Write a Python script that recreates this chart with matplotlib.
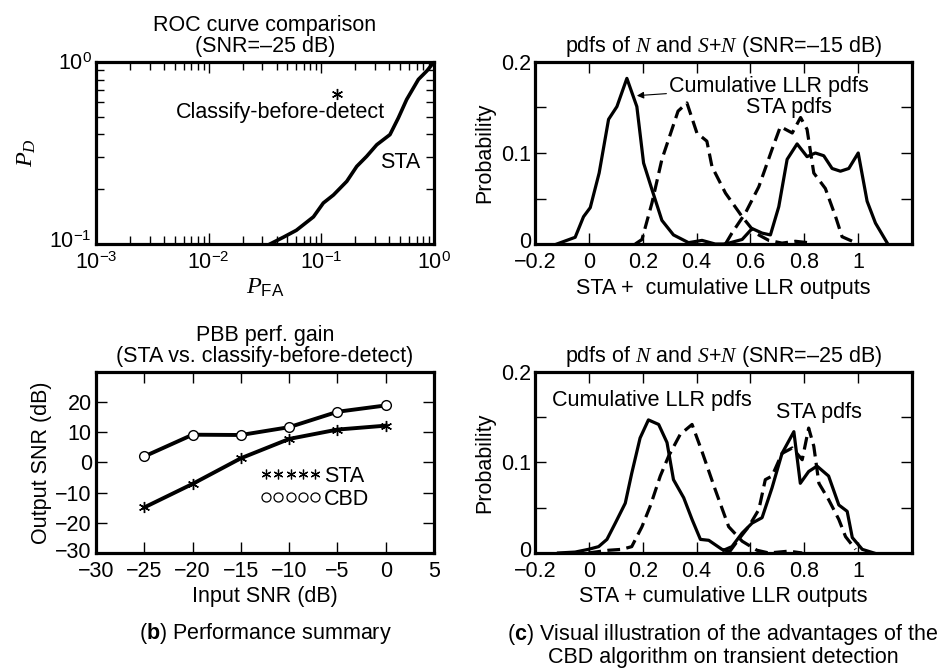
import numpy as np
import matplotlib
matplotlib.use("Agg")
import matplotlib.pyplot as plt
from matplotlib.lines import Line2D
from matplotlib.ticker import NullFormatter
from matplotlib.legend_handler import HandlerLine2D
from matplotlib.transforms import ScaledTranslation

plt.rcParams['font.family'] = ['Liberation Sans', 'DejaVu Sans']
plt.rcParams['mathtext.fontset'] = 'custom'
plt.rcParams['mathtext.rm'] = 'Liberation Sans'
plt.rcParams['mathtext.sf'] = 'Liberation Sans'
plt.rcParams['mathtext.it'] = 'Liberation Serif:italic'
plt.rcParams['mathtext.bf'] = 'Liberation Sans:bold'
plt.rcParams['axes.unicode_minus'] = True

FS = 15.5

# ---------------- data ----------------
# ROC (SNR = -25 dB), STA curve
roc_pfa = [0.035, 0.046, 0.060, 0.085, 0.104, 0.128, 0.168, 0.206, 0.252,
           0.310, 0.406, 0.482, 0.571, 0.726, 0.861, 1.0]
roc_pd = [0.100, 0.109, 0.119, 0.141, 0.168, 0.186, 0.221, 0.267, 0.303,
          0.351, 0.399, 0.493, 0.622, 0.802, 0.892, 1.0]
cbd_pfa = [0.137]
cbd_pd = [0.671]

# Performance summary
snr_in = [-25, -20, -15, -10, -5, 0]
sta_out = [-14.9, -7.1, 1.4, 7.8, 10.9, 12.2]
cbd_out = [2.0, 9.2, 9.1, 11.7, 16.8, 18.9]

# pdfs, SNR = -15 dB
a_llr_n_x = [-0.119, -0.051, -0.020, 0.005, 0.038, 0.073, 0.104, 0.141, 0.178, 0.203,
             0.234, 0.271, 0.314, 0.370, 0.420, 0.469, 0.507]
a_llr_n_y = [0.0, 0.0074, 0.030, 0.040, 0.078, 0.137, 0.151, 0.182, 0.151, 0.089,
             0.060, 0.026, 0.010, 0.0015, 0.004, 0.0, 0.0]
a_sta_n_x = [0.172, 0.197, 0.234, 0.271, 0.331, 0.364, 0.401, 0.438, 0.457, 0.507,
             0.569, 0.618, 0.668, 0.717, 0.767, 0.829]
a_sta_n_y = [0.0, 0.005, 0.045, 0.093, 0.146, 0.155, 0.122, 0.113, 0.085, 0.056,
             0.030, 0.012, 0.004, 0.001, 0.003, 0.001]
a_sta_s_x = [0.507, 0.531, 0.581, 0.631, 0.680, 0.711, 0.755, 0.786, 0.810, 0.835,
             0.878, 0.916, 0.940, 0.990]
a_sta_s_y = [0.0, 0.012, 0.034, 0.063, 0.104, 0.129, 0.122, 0.139, 0.126, 0.078,
             0.061, 0.030, 0.008, 0.0015]
a_llr_s_x = [0.507, 0.569, 0.606, 0.643, 0.674, 0.705, 0.736, 0.773, 0.810, 0.841,
             0.872, 0.903, 0.934, 0.965, 1.0, 1.033, 1.064, 1.108]
a_llr_s_y = [0.0, 0.005, 0.017, 0.012, 0.010, 0.041, 0.093, 0.110, 0.096, 0.100,
             0.097, 0.083, 0.080, 0.083, 0.100, 0.047, 0.023, 0.001]

# pdfs, SNR = -25 dB
b_llr_n_x = [-0.113, -0.051, -0.002, 0.036, 0.067, 0.098, 0.135, 0.159, 0.190, 0.221,
             0.259, 0.290, 0.314, 0.352, 0.383, 0.414, 0.445, 0.494, 0.519]
b_llr_n_y = [0.0, 0.001, 0.004, 0.007, 0.015, 0.033, 0.055, 0.088, 0.127, 0.147,
             0.142, 0.122, 0.081, 0.061, 0.037, 0.015, 0.014, 0.004, 0.002]
b_sta_n_x = [-0.002, 0.073, 0.122, 0.159, 0.197, 0.228, 0.265, 0.296, 0.339, 0.383,
             0.420, 0.469, 0.519, 0.569, 0.624, 0.668, 0.742, 0.792]
b_sta_n_y = [0.0, 0.003, 0.004, 0.007, 0.029, 0.052, 0.085, 0.107, 0.131, 0.142,
             0.112, 0.070, 0.029, 0.013, 0.003, 0.0, 0.002, 0.0]
b_llr_s_x = [0.500, 0.531, 0.569, 0.606, 0.643, 0.680, 0.717, 0.761, 0.785, 0.816,
             0.847, 0.890, 0.928, 0.959, 0.978, 1.015, 1.058]
b_llr_s_y = [0.003, 0.007, 0.022, 0.033, 0.039, 0.072, 0.110, 0.134, 0.077, 0.090,
             0.096, 0.085, 0.053, 0.046, 0.017, 0.004, 0.0]
b_sta_s_x = [0.519, 0.556, 0.593, 0.631, 0.655, 0.680, 0.717, 0.755, 0.792, 0.816,
             0.835, 0.854, 0.890, 0.928, 0.953, 0.990]
b_sta_s_y = [0.0, 0.015, 0.029, 0.048, 0.081, 0.085, 0.110, 0.116, 0.103, 0.138,
             0.118, 0.077, 0.059, 0.037, 0.018, 0.004]

pdf_xticks = [-0.2, 0, 0.2, 0.4, 0.6, 0.8, 1.0]
pdf_xticklabels = ['−0.2', '0', '0.2', '0.4', '0.6', '0.8', '1']
pdf_yticks = [0, 0.05, 0.1, 0.15, 0.2]
pdf_yticklabels = ['0', '', '0.1', '', '0.2']

# ---------------- figure ----------------
fig = plt.figure(figsize=(9.49, 6.68), dpi=100)
LW = 2.3
SW = 2.3

def style(ax):
    for s in ax.spines.values():
        s.set_linewidth(SW)
    ax.tick_params(which='both', direction='in', top=True, right=True,
                   labelsize=FS, width=1.0)
    ax.tick_params(axis='x', which='both', pad=6)
    ax.tick_params(axis='y', which='both', pad=3)
    ax.tick_params(which='major', length=8)
    ax.tick_params(which='minor', length=6)

def lift_bottom_ylabel(ax, pts=3):
    lab = ax.yaxis.get_major_ticks()[0].label1
    lab.set_transform(lab.get_transform() + ScaledTranslation(0, pts / 72, fig.dpi_scale_trans))

# Panel a: ROC
ax1 = fig.add_axes([0.1012, 0.6347, 0.3562, 0.2725])
ax1.plot(roc_pfa, roc_pd, color='black', lw=LW + 0.3)
ax1.plot(cbd_pfa, cbd_pd, ls='none', marker=(6, 2, 0), ms=8, mew=1.0, color='black')
ax1.set_xscale('log')
ax1.set_yscale('log')
ax1.set_xlim(1e-3, 1)
ax1.set_ylim(1e-1, 1)
style(ax1)
ax1.set_xticks([1e-3, 1e-2, 1e-1, 1])
ax1.set_xticklabels([r'$10^{-3}$', r'$10^{-2}$', r'$10^{-1}$', r'$10^{0}$'])
ax1.set_yticks([1e-1, 1])
ax1.set_yticklabels([r'$10^{-1}$', r'$10^{0}$'])
ax1.xaxis.set_minor_formatter(NullFormatter())
ax1.yaxis.set_minor_formatter(NullFormatter())
ax1.set_xlabel(r'$P_{\mathrm{FA}}$', fontsize=FS + 2, labelpad=2)
ax1.set_ylabel(r'$P_D$', fontsize=FS + 2, labelpad=8)
ax1.set_title('ROC curve comparison\n(SNR=–25 dB)', fontsize=FS, pad=7, linespacing=1.0)
ax1.text(0.043, 0.525, 'Classify-before-detect', fontsize=FS, ha='center', va='center')
ax1.text(0.5, 0.279, 'STA', fontsize=FS, ha='center', va='center')
lift_bottom_ylabel(ax1, 3)

# Panel top-right: SNR -15
ax2 = fig.add_axes([0.5638, 0.6347, 0.3973, 0.2725])
ax2.plot(a_llr_n_x, a_llr_n_y, color='black', lw=LW)
ax2.plot(a_sta_n_x, a_sta_n_y, color='black', lw=LW, dashes=(4, 2))
ax2.plot(a_sta_s_x, a_sta_s_y, color='black', lw=LW, dashes=(4, 2))
ax2.plot(a_llr_s_x, a_llr_s_y, color='black', lw=LW)
ax2.set_xlim(-0.2, 1.2)
ax2.set_ylim(0, 0.2)
style(ax2)
ax2.set_xticks(pdf_xticks)
ax2.set_xticklabels(pdf_xticklabels)
ax2.set_yticks(pdf_yticks)
ax2.set_yticklabels(pdf_yticklabels)
ax2.set_xlabel('STA +  cumulative LLR outputs', fontsize=FS, labelpad=3)
ax2.set_ylabel('Probability', fontsize=FS, labelpad=4)
ax2.set_title(r'pdfs of $N$ and $S$+$N$ (SNR=–15 dB)', fontsize=FS, pad=7)
ax2.annotate('Cumulative LLR pdfs', xy=(0.178, 0.163), xytext=(0.298, 0.173),
             fontsize=FS, ha='left', va='center',
             arrowprops=dict(arrowstyle='-|>', color='black', lw=0.8,
                             shrinkA=0, shrinkB=0, mutation_scale=10))
ax2.text(0.742, 0.150, 'STA pdfs', fontsize=FS, ha='center', va='center')
lift_bottom_ylabel(ax2, 3)

# Panel b: performance summary
ax3 = fig.add_axes([0.1012, 0.1722, 0.3562, 0.2710])
ax3.plot(snr_in, cbd_out, color='black', lw=LW + 0.5, marker='o', ms=7,
         mfc='white', mec='black', mew=1.0)
ax3.plot(snr_in, sta_out, color='black', lw=LW + 0.5, marker=(6, 2, 0), ms=8,
         mec='black', mew=1.0)
ax3.set_xlim(-30, 5)
ax3.set_ylim(-30, 30)
style(ax3)
ax3.set_xticks([-30, -25, -20, -15, -10, -5, 0, 5])
ax3.set_xticklabels(['−30', '−25', '−20', '−15', '−10', '−5', '0', '5'])
ax3.set_yticks([-30, -20, -10, 0, 10, 20])
ax3.set_yticklabels(['−30', '−20', '−10', '0', '10', '20'])
ax3.set_xlabel('Input SNR (dB)', fontsize=FS, labelpad=3)
ax3.set_ylabel('Output SNR (dB)', fontsize=FS, labelpad=2)
ax3.set_title('PBB perf. gain\n(STA vs. classify-before-detect)', fontsize=FS, pad=7,
              linespacing=1.0)
h_sta = Line2D([], [], ls='none', marker=(6, 2, 0), ms=7, mew=0.9, color='black')
h_cbd = Line2D([], [], ls='none', marker='o', ms=6.5, mfc='none', mec='black', mew=0.9)
ax3.legend([h_sta, h_cbd], ['STA', 'CBD'], numpoints=5, handlelength=2.9,
           handletextpad=0.1, frameon=False, fontsize=FS, loc='upper left',
           bbox_to_anchor=(0.458, 0.53), labelspacing=0.1, borderaxespad=0,
           handler_map={h_sta: HandlerLine2D(numpoints=5),
                        h_cbd: HandlerLine2D(numpoints=5)})
lift_bottom_ylabel(ax3, 2)

# Panel c: SNR -25
ax4 = fig.add_axes([0.5638, 0.1722, 0.3973, 0.2710])
ax4.plot(b_llr_n_x, b_llr_n_y, color='black', lw=LW)
ax4.plot(b_sta_n_x, b_sta_n_y, color='black', lw=LW, dashes=(4, 2))
ax4.plot(b_sta_s_x, b_sta_s_y, color='black', lw=LW, dashes=(4, 2))
ax4.plot(b_llr_s_x, b_llr_s_y, color='black', lw=LW)
ax4.set_xlim(-0.2, 1.2)
ax4.set_ylim(0, 0.2)
style(ax4)
ax4.set_xticks(pdf_xticks)
ax4.set_xticklabels(pdf_xticklabels)
ax4.set_yticks(pdf_yticks)
ax4.set_yticklabels(pdf_yticklabels)
ax4.set_xlabel('STA + cumulative LLR outputs', fontsize=FS, labelpad=3)
ax4.set_ylabel('Probability', fontsize=FS, labelpad=4)
ax4.set_title(r'pdfs of $N$ and $S$+$N$ (SNR=–25 dB)', fontsize=FS, pad=7)
ax4.text(0.234, 0.169, 'Cumulative LLR pdfs', fontsize=FS, ha='center', va='center')
ax4.text(0.854, 0.155, 'STA pdfs', fontsize=FS, ha='center', va='center')
lift_bottom_ylabel(ax4, 3)

# captions
fig.text(265 / 949, 1 - 633 / 668, r'($\mathbf{b}$) Performance summary',
         fontsize=FS, ha='center', va='center')
fig.text(723 / 949, 1 - 645 / 668,
         '(' + r'$\mathbf{c}$' + ') Visual illustration of the advantages of the\n'
         'CBD algorithm on transient detection',
         fontsize=FS, ha='center', va='center', linespacing=1.0)

fig.savefig('out.png', dpi=100)
